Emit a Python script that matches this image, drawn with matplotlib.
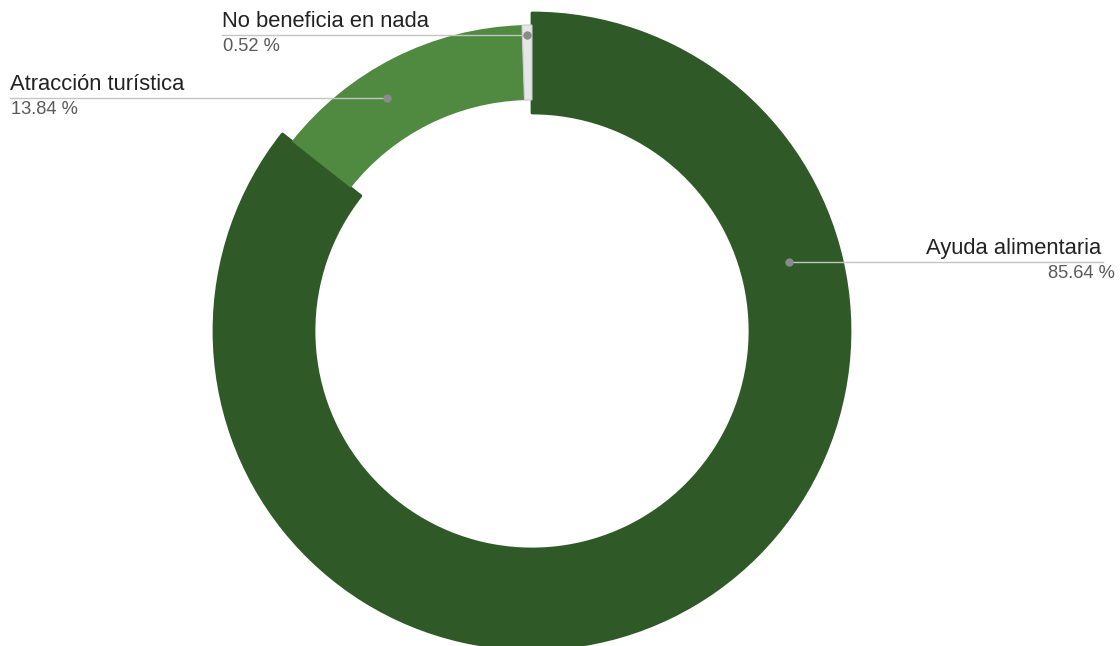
import matplotlib.pyplot as plt

etiquetas = ['Ayuda alimentaria', 'Atracción turística', 'No beneficia en nada']
porcentajes = [85.64, 13.84, 0.52]
colores = ['#2f5a28', '#4f8a40', '#e6e6e6']

W, H = 1120, 646
fig = plt.figure(figsize=(W / 100, H / 100), dpi=100)
ax = fig.add_axes([0, 0, 1, 1])

centro = (532, H - 331)
cunas, _ = ax.pie(porcentajes, colors=colores, startangle=90, counterclock=False,
                  center=centro, radius=306, frame=True,
                  wedgeprops=dict(width=75, linewidth=0))
ax.set_xlim(0, W)
ax.set_ylim(0, H)
ax.set_aspect('equal')
ax.axis('off')

# la porción principal va resaltada (más ancha por dentro y por fuera)
cunas[0].set_radius(318)
cunas[0].set_width(100)
cunas[0].set_edgecolor(colores[0])
cunas[0].set_linewidth(2)
cunas[0].set_joinstyle('round')
cunas[2].set_edgecolor('#c8c8c8')
cunas[2].set_linewidth(0.8)

# (punto, extremo de la línea, alineación del texto)
guias = [
    ((789, 262), 1103, 'right'),
    ((387, 98), 10, 'left'),
    ((527, 35), 222, 'left'),
]

for (lab, pct, ((px, py), xl, al)) in zip(etiquetas, porcentajes, guias):
    y = H - py
    ax.plot([px, xl], [y, y], color='#c4c4c4', lw=1, zorder=3)
    ax.plot(px, y, 'o', ms=5, color='#8a8a8a', zorder=4)
    if al == 'right':
        ax.text(xl - 2, y + 3, lab, ha='right', va='bottom', fontsize=15.8,
                color='#222222', family='Liberation Sans')
        ax.text(xl + 12, y - 3, f'{pct:.2f} %', ha='right', va='top', fontsize=13.2,
                color='#5a5a5a', family='Liberation Sans')
    else:
        ax.text(xl, y + 3, lab, ha='left', va='bottom', fontsize=15.8,
                color='#222222', family='Liberation Sans')
        ax.text(xl + 1, y - 3, f'{pct:.2f} %', ha='left', va='top', fontsize=13.2,
                color='#5a5a5a', family='Liberation Sans')

fig.savefig('out.png', dpi=100, facecolor='white')
